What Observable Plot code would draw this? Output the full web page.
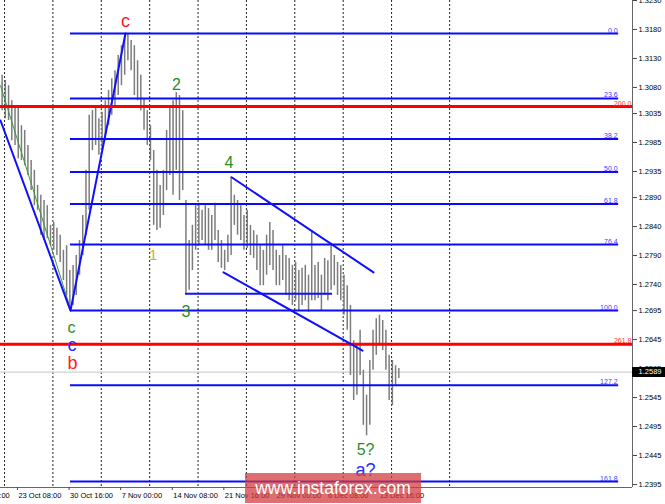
<!DOCTYPE html>
<html><head><meta charset="utf-8">
<script src="https://cdn.jsdelivr.net/npm/d3@7"></script>
<script src="https://cdn.jsdelivr.net/npm/@observablehq/plot@0.6"></script>
<style>
html,body{margin:0;padding:0;background:#fff;}
#wrap{position:relative;width:665px;height:504px;overflow:hidden;}
#wrap svg{position:absolute;left:0;top:0;}
#wm{position:absolute;left:245px;top:473px;width:176px;height:30px;background:rgba(210,60,62,0.74);color:#fff;font:17.5px "Liberation Sans",Arial,sans-serif;line-height:30px;text-align:center;z-index:2;}
</style></head><body>
<div id="wrap"><div id="wm">www.instaforex.com</div></div>
<script>
// H4 bars, GBP/USD (every second bar sampled), high / low
const barHigh = [
1.3101,1.3092,1.3083,1.3057,1.3049,1.3044,1.3014,1.3006,1.2980,1.2954,
1.2937,1.2911,1.2894,1.2885,1.2876,1.2842,1.2847,1.2837,1.2825,1.2799,
1.2807,1.2764,1.2773,1.2790,1.2816,1.2859,1.2937,1.3032,1.3040,1.3044,
1.3026,1.3037,1.3057,1.3075,1.3095,1.3109,1.3135,1.3152,1.3170,1.3173,
1.3161,1.3152,1.3126,1.3101,1.3061,1.3040,1.3014,1.2971,1.2937,1.2911,
1.2937,1.3006,1.3049,1.3057,1.3071,1.3066,1.3040,1.2885,1.2816,1.2842,
1.2876,1.2880,1.2868,1.2876,1.2871,1.2859,1.2880,1.2833,1.2816,1.2799,
1.2825,1.2925,1.2894,1.2885,1.2876,1.2859,1.2868,1.2842,1.2833,1.2825,
1.2807,1.2799,1.2825,1.2847,1.2833,1.2799,1.2790,1.2807,1.2790,1.2785,
1.2773,1.2778,1.2764,1.2768,1.2773,1.2756,1.2833,1.2773,1.2778,1.2756,
1.2785,1.2781,1.2811,1.2790,1.2778,1.2773,1.2756,1.2738,1.2704,1.2643,
1.2635,1.2661,1.2592,1.2549,1.2609,1.2661,1.2681,1.2687,1.2678,1.2661,
1.2618,1.2609,1.2600,1.2595];
const barLow = [
1.3040,1.3026,1.3023,1.2988,1.2980,1.2957,1.2954,1.2945,1.2928,1.2902,
1.2876,1.2868,1.2825,1.2816,1.2819,1.2807,1.2799,1.2790,1.2778,1.2747,
1.2721,1.2695,1.2704,1.2721,1.2756,1.2790,1.2825,1.2868,1.2971,1.2980,
1.2963,1.2971,1.2988,1.3014,1.3032,1.3049,1.3066,1.3083,1.3101,1.3126,
1.3109,1.3066,1.3057,1.3040,1.3006,1.2980,1.2954,1.2842,1.2833,1.2837,
1.2859,1.2902,1.2928,1.2894,1.2937,1.2885,1.2902,1.2725,1.2730,1.2764,
1.2799,1.2807,1.2816,1.2807,1.2799,1.2799,1.2816,1.2778,1.2768,1.2764,
1.2778,1.2790,1.2842,1.2825,1.2816,1.2799,1.2802,1.2790,1.2785,1.2764,
1.2738,1.2738,1.2756,1.2773,1.2764,1.2738,1.2738,1.2747,1.2721,1.2712,
1.2704,1.2712,1.2695,1.2704,1.2712,1.2692,1.2712,1.2712,1.2716,1.2695,
1.2721,1.2712,1.2730,1.2738,1.2721,1.2712,1.2687,1.2661,1.2583,1.2540,
1.2549,1.2583,1.2497,1.2479,1.2497,1.2592,1.2618,1.2635,1.2626,1.2592,
1.2540,1.2531,1.2566,1.2578];

const xDomain = [0, 391.9];          // bar index
const yDomain = [1.23898, 1.3230];   // price
const currentPrice = 1.2589;

const yTickValues = [1.3230,1.3180,1.3130,1.3080,1.3035,1.2985,1.2935,1.2890,1.2840,1.2790,1.2740,1.2695,1.2645,1.2595,1.2545,1.2495,1.2445,1.2395];
const timeTickBars = [-21.5,10.5,42.5,74.5,106.5,138.5,170.5,202.5,234.5];
const timeLabels = ["16 Oct 00:00","23 Oct 08:00","30 Oct 16:00","7 Nov 00:00","14 Nov 08:00","21 Nov 16:00","29 Nov 00:00","6 Dec 08:00","13 Dec 16:00"];
const gridBars = [2.5,32.5,62.5,92.5,122.5,152.5,182.5,212.5,242.5,278.5];

// Fibonacci grid (blue), from wave c low to right
const fibNames = ["0.0","23.6","38.2","50.0","61.8","76.4","100.0","127.2","161.8"];
const fibPrices = [1.3173,1.3061,1.2991,1.2934,1.2879,1.2809,1.2695,1.2566,1.2400];
const fibStartBar = 43.4, fibEndBar = 383.3;
// Extension levels (red)
const extNames = ["200.0","261.8"];
const extPrices = [1.3047,1.2637];

// Zigzag, thin green trend, channel, wave-3 level
const zigBars = [0, 43.4, 77.5];
const zigPrices = [1.3023, 1.2695, 1.3173];
const greenBars = [0, 42.2];
const greenPrices = [1.3083, 1.2709];
const chanUpBars = [143.3, 231.3], chanUpPrices = [1.2925, 1.2761];
const chanLoBars = [138.3, 224.5], chanLoPrices = [1.2761, 1.2626];
const w3Bars = [114.7, 205.9], w3Price = 1.2724;

// Wave labels
const waveText  = ["c","2","1","3","4","c","c","b","5?","a?"];
const waveBar   = [77.5,109.1,94.6,115.0,141.7,44.0,44.3,44.7,226.4,226.4];
const wavePrice = [1.3195,1.3084,1.2790,1.2693,1.2949,1.2666,1.2635,1.2604,1.2454,1.2419];
const waveDegree= ["major","minor","sub","minor","minor","minor","inter","major","minor","inter"];

const degColor = {major:"#ff1a1a", minor:"#1f8f1f", sub:"#b4c21a", inter:"#2a2aff"};
const degSize  = {major:18, minor:16, sub:15, inter:18};

const bars = barHigh.map((h,i)=>({bar:2*i+1, high:h, low:barLow[i]}));
const fibs = fibNames.map((n,i)=>({name:n, price:fibPrices[i]}));
const exts = extNames.map((n,i)=>({name:n, price:extPrices[i]}));
const pts = (bs,ps)=>bs.map((b,i)=>({bar:b, price:ps[i]}));
const waves = waveText.map((t,i)=>({t, bar:waveBar[i], price:wavePrice[i], deg:waveDegree[i]}));
const times = timeTickBars.map((b,i)=>({bar:b, label:timeLabels[i]}));

const plot = Plot.plot({
  width:665, height:504,
  marginLeft:0, marginRight:33, marginTop:0, marginBottom:17,
  style:{fontFamily:"'Liberation Sans', Arial, sans-serif", fontSize:"7.5px", background:"white", color:"#000"},
  x:{domain:xDomain, axis:null},
  y:{domain:yDomain, axis:null},
  marks:[
    Plot.ruleX(gridBars, {stroke:"#222", strokeDasharray:"2,2", strokeWidth:1}),
    Plot.ruleY([currentPrice], {stroke:"#cfcfcf", strokeWidth:1.2}),
    Plot.ruleX(bars, {x:"bar", y1:"low", y2:"high", stroke:"#7c7c7c", strokeWidth:1.5}),
    Plot.line(pts(greenBars, greenPrices), {x:"bar", y:"price", stroke:"#3a9a3a", strokeWidth:1}),
    Plot.line(pts(zigBars, zigPrices), {x:"bar", y:"price", stroke:"#1010ff", strokeWidth:2}),
    Plot.ruleY(fibs, {y:"price", x1:fibStartBar, x2:fibEndBar, stroke:"#0a0aff", strokeWidth:2}),
    Plot.ruleY(exts, {y:"price", stroke:"#ff0000", strokeWidth:3}),
    Plot.line(pts(chanUpBars, chanUpPrices), {x:"bar", y:"price", stroke:"#1010ff", strokeWidth:2}),
    Plot.line(pts(chanLoBars, chanLoPrices), {x:"bar", y:"price", stroke:"#1010ff", strokeWidth:2}),
    Plot.ruleY([w3Price], {x1:w3Bars[0], x2:w3Bars[1], stroke:"#1010ff", strokeWidth:2}),
    Plot.text(fibs, {y:"price", x:fibEndBar, text:"name", textAnchor:"end", lineAnchor:"bottom", dy:-1, dx:-1, fill:"#3c3cff", fontSize:7}),
    Plot.text(exts, {y:"price", x:xDomain[1], text:"name", textAnchor:"end", lineAnchor:"bottom", dy:-1, dx:-1, fill:"#ff3030", fontSize:7}),
    Plot.text(waves, {x:"bar", y:"price", text:"t", fill:d=>degColor[d.deg], fontSize:d=>degSize[d.deg], lineAnchor:"middle"}),
    Plot.ruleX([xDomain[1]], {stroke:"#666"}),
    Plot.ruleY([yDomain[0]], {stroke:"#666"}),
    Plot.axisY({anchor:"right", ticks:yTickValues, tickFormat:d3.format(".4f"), tickSize:4, tickPadding:2, label:null, stroke:"#444"}),
    Plot.axisX({anchor:"bottom", ticks:timeTickBars, tickSize:3, tickFormat:()=>"", label:null, stroke:"#444"}),
    Plot.text(times, {x:"bar", text:"label", frameAnchor:"bottom", dy:8, dx:1, textAnchor:"start", lineAnchor:"middle", fill:"#000"}),
    Plot.ruleY([currentPrice], {x1:()=>xDomain[1], x2:()=>xDomain[1]+20.5, stroke:"#000", strokeWidth:10}),
    Plot.text([currentPrice], {y:d=>d, text:d=>d3.format(".4f")(d), frameAnchor:"right", dx:29, textAnchor:"end", lineAnchor:"middle", fill:"#fff", fontSize:7.5})
  ]
});
const wrap = document.getElementById("wrap");
wrap.insertBefore(plot, document.getElementById("wm"));
</script>
</body></html>
